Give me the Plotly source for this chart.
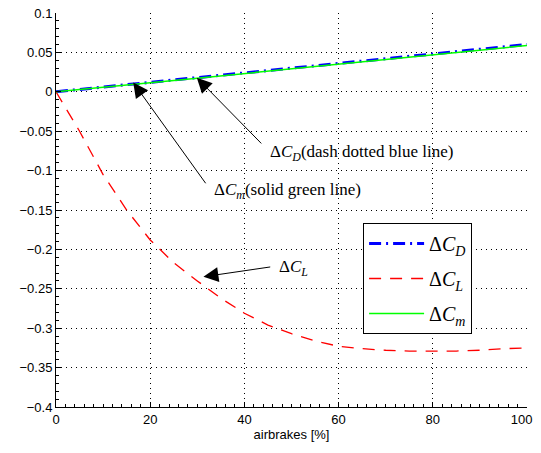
import plotly.graph_objects as go

airbrakes = [0, 5, 10, 15, 20, 25, 30, 35, 40, 45, 50, 55, 60, 65, 70, 75, 80, 85, 90, 95, 100]
dCD = [0, 0.0030, 0.0058, 0.0088, 0.0118, 0.0148, 0.0178, 0.0208, 0.0238, 0.0268, 0.0298,
       0.0328, 0.0358, 0.0388, 0.0418, 0.0448, 0.0478, 0.0508, 0.0540, 0.0570, 0.0600]
dCL = [0, -0.050, -0.105, -0.150, -0.188, -0.217, -0.240, -0.262, -0.281, -0.296, -0.307,
       -0.316, -0.323, -0.326, -0.328, -0.329, -0.329, -0.329, -0.328, -0.326, -0.325]
dCm = [0, 0.0027, 0.0055, 0.0084, 0.0113, 0.0142, 0.0172, 0.0201, 0.0230, 0.0259, 0.0289,
       0.0318, 0.0348, 0.0377, 0.0406, 0.0436, 0.0466, 0.0496, 0.0527, 0.0557, 0.0588]
x_tickvals = [0, 20, 40, 60, 80, 100]
x_ticklabels = ["0", "20", "40", "60", "80", "100"]

SERIF = "Liberation Serif, Times New Roman, serif"
SANS = "Liberation Sans, Arial, sans-serif"

fig = go.Figure()
fig.add_trace(go.Scatter(x=airbrakes, y=dCD, mode="lines", name="Δ<i>C</i><sub><i>D</i></sub>",
                         legendgroup="a",
                         line=dict(color="#0000ff", width=3, dash="12px,5px,2px,5px")))
fig.add_trace(go.Scatter(x=airbrakes, y=dCL, mode="lines", name="Δ<i>C</i><sub><i>L</i></sub>",
                         legendgroup="b",
                         line=dict(color="#ff0000", width=1.3, dash="12px,9px")))
fig.add_trace(go.Scatter(x=airbrakes, y=dCm, mode="lines", name="Δ<i>C</i><sub><i>m</i></sub>",
                         legendgroup="c",
                         line=dict(color="#00ff00", width=1.5)))

grid = dict(showgrid=True, gridcolor="#000000", gridwidth=1, griddash="1px,4px",
            zeroline=False, showline=True, linecolor="#000000", linewidth=1,
            ticks="inside", ticklen=5, tickcolor="#000000", automargin=False,
            ticklabeloverflow="allow",
            tickfont=dict(family=SANS, size=13, color="#000000"))

# last label padded so it stays inside the window like in the reference
shown_labels = x_ticklabels[:-1] + [x_ticklabels[-1] + "\u00a0\u00a0\u00a0"]
fig.update_xaxes(range=[0, 100], tickmode="array", tickvals=x_tickvals, ticktext=shown_labels,
                 minor=dict(dtick=2, ticks="inside", ticklen=3, tickcolor="#000000", showgrid=False),
                 title=dict(text="airbrakes [%]", font=dict(family=SANS, size=13, color="#000000"),
                            standoff=4),
                 **grid)
fig.update_yaxes(range=[-0.4, 0.1], dtick=0.05, tick0=0,
                 minor=dict(dtick=0.01, ticks="inside", ticklen=3, tickcolor="#000000", showgrid=False),
                 **grid)

arrow_style = dict(showarrow=True, arrowhead=2, arrowsize=3, arrowwidth=1, arrowcolor="#000000",
                   axref="x", ayref="y", text="")
fig.add_annotation(x=29.9, y=0.0178, ax=43.9, ay=-0.0674, **arrow_style)
fig.add_annotation(x=16.4, y=0.0118, ax=32.0, ay=-0.118, **arrow_style)
fig.add_annotation(x=31.3, y=-0.2347, ax=45.8, ay=-0.222, **arrow_style)

txt = dict(showarrow=False, xanchor="left", yanchor="middle",
           font=dict(family=SERIF, size=17, color="#000000"))
fig.add_annotation(x=45.0, y=-0.0775, text="Δ<i>C</i><sub><i>D</i></sub>(dash dotted blue line)", **txt)
fig.add_annotation(x=33.1, y=-0.126, text="Δ<i>C</i><sub><i>m</i></sub>(solid green line)", **txt)
fig.add_annotation(x=46.9, y=-0.224, text="Δ<i>C</i><sub><i>L</i></sub>", **txt)

# page has an 8px body margin; overflow past the window is not photographed
fig.update_layout(
    width=533, height=445,
    margin=dict(l=48, r=14, t=5, b=46),
    paper_bgcolor="#ffffff", plot_bgcolor="#ffffff",
    showlegend=True,
    legend=dict(x=0.652, y=0.467, xanchor="left", yanchor="top",
                bordercolor="#000000", borderwidth=1, bgcolor="#ffffff",
                font=dict(family=SERIF, size=20, color="#000000"),
                tracegroupgap=6, itemwidth=55, traceorder="grouped"),
)

fig.write_html("out.html")
